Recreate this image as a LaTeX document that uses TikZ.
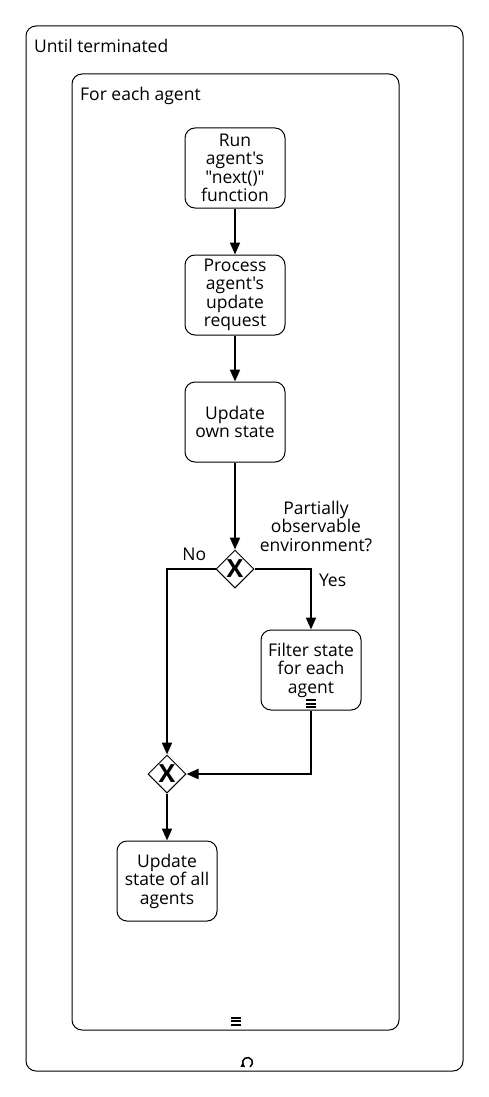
\documentclass[tikz,border=0pt]{standalone}
\usepackage{fontspec}
\newfontfamily\bpmnfont{Open Sans}
\usetikzlibrary{arrows.meta,positioning,shapes.geometric}
\tikzset{
    %Define standard arrow tip
    >={Triangle[length=12pt,width=10pt]},
    %Define style for boxes
    task/.style={
           rectangle,
           rounded corners=10pt,
           draw=black, line width=1pt,
           minimum width=100pt,
           minimum height=80pt,
           inner sep=2pt,
           align=center,
           font=\bpmnfont\fontsize{17.5}{18.5}\selectfont},
    gateway/.style={
           diamond,
           draw=black, line width=1pt,
           minimum size=38pt,
           inner sep=0pt,
           font=\bpmnfont\bfseries\fontsize{25}{25}\selectfont},
    container/.style={
           rectangle,
           rounded corners=10pt,
           draw=black, line width=1pt},
    lbl/.style={
           inner sep=0pt,
           align=center,
           font=\bpmnfont\fontsize{17.5}{18.5}\selectfont},
    % Define arrow style
    flow/.style={
           ->,
           line width=2pt},
    % Define markers
    seqmark/.pic={
           \draw[line width=2pt] (-5,-3.5) -- (5,-3.5) (-5,0) -- (5,0) (-5,3.5) -- (5,3.5);},
    loopmark/.pic={
           \draw[line width=1.5pt,-{Triangle[length=4pt,width=4.5pt]}] (2.5,4.33) arc[start angle=60,end angle=-240,radius=5];}
}
\begin{document}
\begin{tikzpicture}[x=1pt,y=-1pt]
\useasboundingbox (0,0) rectangle (488,1097);
 %containers
\node[container, minimum width=437pt, minimum height=1045pt](loop) at (244.5,548.5){};
\node[container, minimum width=327pt, minimum height=956pt](each) at (235.5,552){};
\node[lbl, anchor=base west](looplbl) at (34,53){Until terminated};
\node[lbl, anchor=base west](eachlbl) at (80,101){For each agent};
 %nodes
\node[task](run) at (235,168){Run\\agent's\\"next()"\\function};
\node[task, below=46pt of run](process){Process\\agent's\\update\\request};
\node[task, below=46pt of process](update){Update\\own state};
\node[gateway, below=87pt of update](split){X};
\node[task](filter) at (311,670){Filter state\\for each\\agent};
\node[gateway](join) at (167,774){X};
\node[task, below=47pt of join](updall){Update\\state of all\\agents};
\node[lbl](question) at (316,526){Partially\\observable\\environment?};
 %markers
\pic at ([yshift=7pt]filter.south) {seqmark};
\pic at ([yshift=9.5pt]each.south) {seqmark};
\pic at ([xshift=3pt,yshift=9pt]loop.south) {loopmark};
 %flows
\draw[flow] (run) -- (process);
\draw[flow] (process) -- (update);
\draw[flow] (update) -- (split);
\draw[flow] (split.west) -| node[lbl, pos=0.25, anchor=base, xshift=3pt, yshift=9pt](no){No} (join.north);
\draw[flow] (split.east) -| node[lbl, pos=0.5, anchor=base west, xshift=7pt, yshift=-17pt](yes){Yes} (filter.north);
\draw[flow] (filter.south) |- (join.east);
\draw[flow] (join) -- (updall);
\end{tikzpicture}
\end{document}
